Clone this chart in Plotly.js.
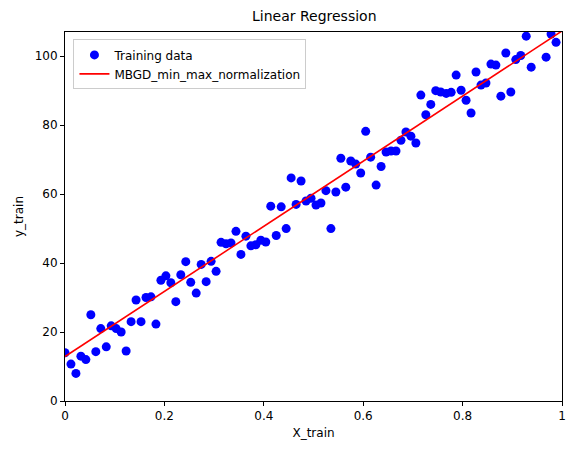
<!DOCTYPE html>
<html>
<head>
<meta charset="utf-8">
<script src="https://cdn.plot.ly/plotly-3.0.1.min.js"></script>
<style>body{margin:0}#chart{width:582px;height:455px}</style>
</head>
<body>
<div id="chart"></div>
<script>
// training data
const xTrain = [0, 0.012, 0.022, 0.032, 0.042, 0.052, 0.062, 0.072, 0.083, 0.093, 0.103, 0.113, 0.123, 0.133, 0.143, 0.153,
  0.163, 0.173, 0.183, 0.193, 0.203, 0.213, 0.223, 0.233, 0.243, 0.253, 0.264, 0.274, 0.284, 0.294, 0.304, 0.314, 0.324,
  0.334, 0.344, 0.354, 0.364, 0.374, 0.384, 0.394, 0.404, 0.414, 0.425, 0.435, 0.445, 0.455, 0.465, 0.475, 0.485, 0.495,
  0.505, 0.515, 0.525, 0.535, 0.545, 0.555, 0.565, 0.575, 0.585, 0.595, 0.605, 0.615, 0.626, 0.636, 0.646, 0.656, 0.666,
  0.676, 0.686, 0.696, 0.706, 0.716, 0.726, 0.736, 0.746, 0.756, 0.767, 0.777, 0.787, 0.797, 0.807, 0.817, 0.827, 0.837,
  0.847, 0.857, 0.867, 0.877, 0.887, 0.897, 0.907, 0.917, 0.928, 0.938, 0.968, 0.978, 0.988];
const yTrain = [14, 10.7, 8, 13, 12, 25, 14.3, 21, 15.7, 21.8, 21, 20, 14.5, 23, 29.3, 23, 30, 30.2, 22.3, 35, 36.3, 34.3,
  28.8, 36.6, 40.4, 34.4, 31.3, 39.6, 34.6, 40.5, 37.6, 46, 45.6, 45.8, 49.2, 42.5, 47.8, 45, 45.3, 46.6, 46.1, 56.5, 48,
  56.3, 50, 64.7, 57, 63.8, 58, 58.8, 56.8, 57.4, 61, 50, 60.6, 70.4, 62, 69.6, 68.7, 66.1, 78.2, 70.7, 62.6, 68, 72.2,
  72.5, 72.5, 75.6, 78, 76.8, 74.8, 88.7, 83, 86, 90, 89.6, 89.2, 89.5, 94.5, 90.1, 87.2, 83.5, 95.4, 91.6, 92.2, 97.7,
  97.4, 88.4, 100.9, 89.6, 99, 100.2, 105.8, 96.8, 99.7, 106.4, 104];
// fitted line end points
const xLine = [0, 1];
const yLine = [12.9, 107.3];

const trazas = [
  {
    x: xTrain, y: yTrain, type: 'scatter', mode: 'markers', name: 'Training data',
    marker: { color: '#0000ff', size: 9 }
  },
  {
    x: xLine, y: yLine, type: 'scatter', mode: 'lines', name: 'MBGD_min_max_normalization',
    line: { color: '#ff0000', width: 1.6 }
  }
];

const eje = {
  showgrid: false, zeroline: false, showline: true, mirror: true,
  linecolor: '#000', linewidth: 1, ticks: 'outside', ticklen: 4, tickcolor: '#000',
  tickfont: { size: 12, color: '#000' }
};

const layout = {
  width: 582, height: 455,
  margin: { l: 65, r: 20, t: 32, b: 54 },
  paper_bgcolor: '#fff', plot_bgcolor: '#fff',
  font: { family: 'DejaVu Sans, sans-serif', color: '#000' },
  title: { text: 'Linear Regression', font: { size: 14 }, x: 0.54, y: 0.975, yanchor: 'top' },
  xaxis: Object.assign({}, eje, { range: [0, 1], dtick: 0.2, title: { text: 'X_train', font: { size: 12 }, standoff: 6 } }),
  yaxis: Object.assign({}, eje, { range: [0, 107], dtick: 20, title: { text: 'y_train', font: { size: 12 }, standoff: 8 } }),
  showlegend: true,
  legend: {
    x: 0.017, y: 0.98, xanchor: 'left', yanchor: 'top',
    bgcolor: 'rgba(255,255,255,0.8)', bordercolor: '#ccc', borderwidth: 1,
    font: { size: 12 }
  }
};

Plotly.newPlot('chart', trazas, layout, { displayModeBar: false, staticPlot: true });
</script>
</body>
</html>
